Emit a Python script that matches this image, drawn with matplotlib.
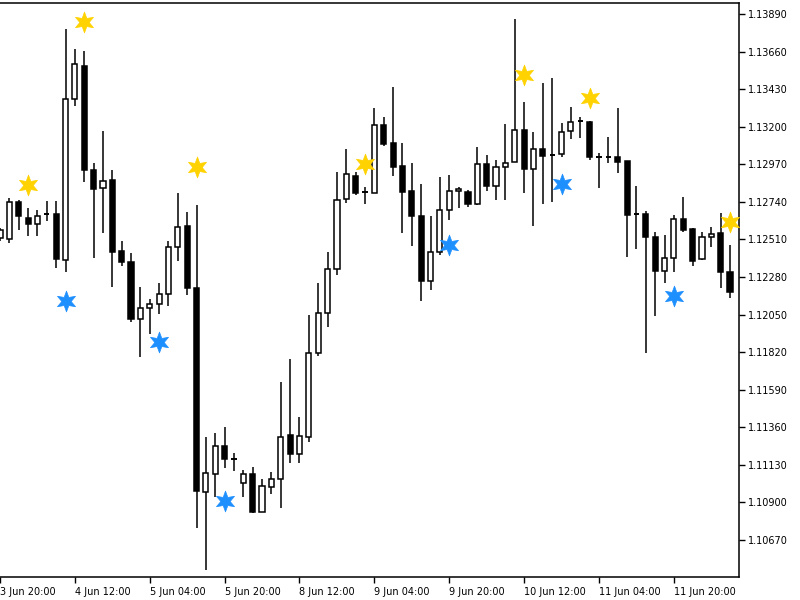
import numpy as np
import pandas as pd
import matplotlib
matplotlib.use("Agg")
import matplotlib.pyplot as plt
from matplotlib.patches import Rectangle
from matplotlib.path import Path

# EURUSD H2 candles, 3 Jun 20:00 .. 12 Jun 08:00
opens = [1.12519, 1.12511, 1.12737, 1.12639, 1.12604, 1.12665, 1.12664, 1.12382,
         1.13368, 1.13574, 1.12935, 1.12827, 1.12872, 1.12441, 1.12370, 1.12021,
         1.12088, 1.12115, 1.12174, 1.12465, 1.12592, 1.12211, 1.10966, 1.11074,
         1.11247, 1.11165, 1.11017, 1.11074, 1.10843, 1.10996, 1.11043, 1.11313,
         1.11196, 1.11302, 1.11813, 1.12058, 1.12327, 1.12756, 1.12900, 1.12803,
         1.12796, 1.13209, 1.13102, 1.12960, 1.12806, 1.12655, 1.12257, 1.12431,
         1.12690, 1.12805, 1.12800, 1.12725, 1.12972, 1.12839, 1.12952, 1.12984,
         1.13180, 1.12941, 1.13065, 1.13028, 1.13035, 1.13174, 1.13232, 1.13231,
         1.13017, 1.13017, 1.13016, 1.12988, 1.12665, 1.12664, 1.12527, 1.12317,
         1.12398, 1.12635, 1.12572, 1.12388, 1.12525, 1.12547, 1.12312]
highs = [1.12580, 1.12765, 1.12751, 1.12700, 1.12690, 1.12745, 1.12745, 1.13798,
         1.13676, 1.13664, 1.12980, 1.13174, 1.12935, 1.12500, 1.12429, 1.12221,
         1.12145, 1.12241, 1.12500, 1.12796, 1.12678, 1.12721, 1.11302, 1.11327,
         1.11363, 1.11204, 1.11098, 1.11119, 1.11041, 1.11084, 1.11635, 1.11778,
         1.11421, 1.12047, 1.12245, 1.12431, 1.12921, 1.13065, 1.12921, 1.12833,
         1.13313, 1.13261, 1.13445, 1.13102, 1.12980, 1.12851, 1.12655, 1.12894,
         1.12903, 1.12833, 1.12813, 1.13076, 1.13025, 1.12994, 1.13217, 1.13858,
         1.13353, 1.13166, 1.13468, 1.13498, 1.13225, 1.13319, 1.13261, 1.13232,
         1.13041, 1.13139, 1.13313, 1.12992, 1.12837, 1.12686, 1.12554, 1.12537,
         1.12659, 1.12772, 1.12582, 1.12554, 1.12588, 1.12674, 1.12476]
lows = [1.12500, 1.12490, 1.12568, 1.12531, 1.12531, 1.12623, 1.12337, 1.12309,
        1.13329, 1.12860, 1.12394, 1.12547, 1.12217, 1.12349, 1.12006, 1.11792,
        1.11929, 1.12052, 1.12102, 1.12378, 1.12167, 1.10742, 1.10486, 1.10935,
        1.11109, 1.11094, 1.10935, 1.10837, 1.10841, 1.10950, 1.10864, 1.11139,
        1.11143, 1.11272, 1.11796, 1.11976, 1.12292, 1.12731, 1.12782, 1.12727,
        1.12792, 1.13084, 1.12898, 1.12551, 1.12472, 1.12135, 1.12200, 1.12415,
        1.12629, 1.12700, 1.12710, 1.12723, 1.12808, 1.12751, 1.12751, 1.12982,
        1.12796, 1.12594, 1.12725, 1.12737, 1.13013, 1.13123, 1.13129, 1.12996,
        1.12827, 1.12976, 1.12918, 1.12400, 1.12449, 1.11813, 1.12043, 1.12241,
        1.12312, 1.12554, 1.12349, 1.12384, 1.12462, 1.12215, 1.12150]
closes = [1.12568, 1.12741, 1.12655, 1.12603, 1.12653, 1.12663, 1.12388, 1.13368,
          1.13582, 1.12935, 1.12819, 1.12870, 1.12435, 1.12370, 1.12021, 1.12088,
          1.12115, 1.12176, 1.12462, 1.12584, 1.12211, 1.10972, 1.11082, 1.11247,
          1.11166, 1.11163, 1.11074, 1.10843, 1.11000, 1.11043, 1.11302, 1.11195,
          1.11307, 1.11817, 1.12058, 1.12327, 1.12751, 1.12909, 1.12796, 1.12801,
          1.13209, 1.13094, 1.12955, 1.12802, 1.12653, 1.12257, 1.12431, 1.12690,
          1.12806, 1.12821, 1.12725, 1.12972, 1.12839, 1.12952, 1.12978, 1.13180,
          1.12941, 1.13064, 1.13019, 1.13026, 1.13166, 1.13229, 1.13230, 1.13013,
          1.13015, 1.13015, 1.12982, 1.12659, 1.12663, 1.12523, 1.12317, 1.12398,
          1.12633, 1.12568, 1.12380, 1.12525, 1.12545, 1.12309, 1.12186]

# fractal-style markers: candle index -> price
up_idx = [3, 9, 21, 39, 56, 63, 78]
up_val = [1.12843, 1.13839, 1.12952, 1.12970, 1.13517, 1.13374, 1.12615]
dn_idx = [7, 17, 24, 48, 60, 72]
dn_val = [1.12135, 1.11884, 1.10909, 1.12476, 1.12849, 1.12165]

price_ticks = [1.10670, 1.10900, 1.11130, 1.11360, 1.11590, 1.11820, 1.12050,
               1.12280, 1.12510, 1.12740, 1.12970, 1.13200, 1.13430, 1.13660, 1.13890]

# trading hours only (weekend removed)
times = pd.date_range("2020-06-03 20:00", "2020-06-12 08:00", freq="2h")
times = times[times.dayofweek < 5]
tick_pos = list(range(0, len(times), 8))
tick_lab = [f"{t.day} {t.strftime('%b')} {t.strftime('%H:%M')}" for t in times[tick_pos]]

# six-pointed star marker
ang = np.pi / 2 + np.arange(12) * np.pi / 6
rad = np.where(np.arange(12) % 2 == 0, 1.0, 0.45)
verts = np.column_stack([rad * np.cos(ang), rad * np.sin(ang)])
verts = np.vstack([verts, verts[:1]])
star = Path(verts, closed=True)

fig = plt.figure(figsize=(8, 6), dpi=100)
ax = fig.add_axes([0.0, 0.0383, 0.924, 0.9567])

w = 0.55
for i in range(len(opens)):
    o, h, l, c = opens[i], highs[i], lows[i], closes[i]
    ax.vlines(i, l, h, color="black", lw=1.1, zorder=2)
    lo, hi = min(o, c), max(o, c)
    if abs(c - o) < 0.00004:
        ax.hlines(o, i - w / 2, i + w / 2, color="black", lw=1.4, zorder=3)
    else:
        fc = "white" if c > o else "black"
        ax.add_patch(Rectangle((i - w / 2, lo), w, hi - lo, facecolor=fc,
                               edgecolor="black", lw=1.1, zorder=3))

ax.plot(up_idx, up_val, ls="none", marker=star, ms=15, color="#FFD200",
        mec="#FFD200", mew=0.5, zorder=4)
ax.plot(dn_idx, dn_val, ls="none", marker=star, ms=15, color="#1E8FFF",
        mec="#1E8FFF", mew=0.5, zorder=4)

ax.set_xlim(0.28, 78.98)
ax.set_ylim(1.10443, 1.13957)

ax.yaxis.tick_right()
ax.set_yticks(price_ticks)
ax.set_yticklabels([f"{p:.5f}" for p in price_ticks])
ax.set_xticks(tick_pos)
ax.set_xticklabels(tick_lab, ha="left")
ax.tick_params(axis="both", direction="out", length=4, width=1, labelsize=7,
               colors="black", pad=2)
ax.tick_params(axis="x", pad=3)
ax.spines["left"].set_visible(False)
for s in ["top", "right", "bottom"]:
    ax.spines[s].set_linewidth(1.1)

fig.savefig("out.png", dpi=100)
